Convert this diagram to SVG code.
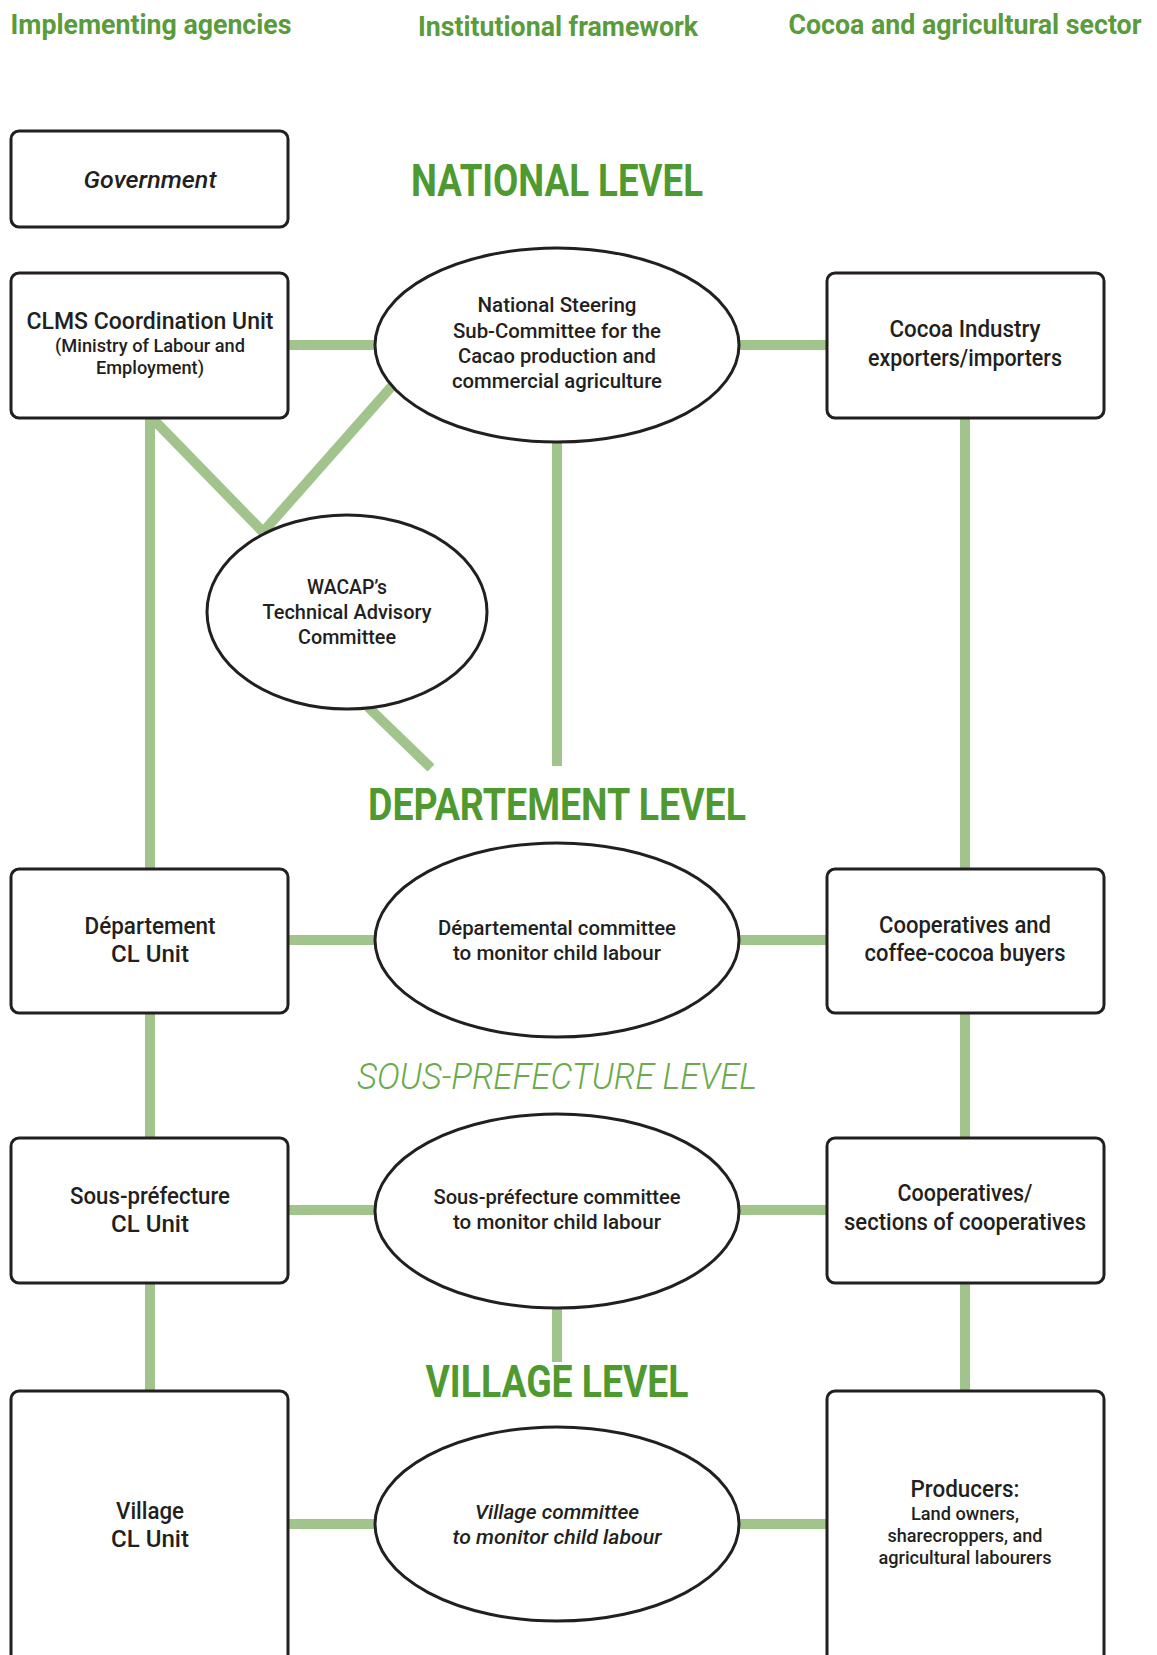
<svg xmlns="http://www.w3.org/2000/svg" width="1157" height="1655" viewBox="0 0 1157 1655">
<style>
.box{fill:#fff;stroke:#231f20;stroke-width:3}
.ell{fill:#fff;stroke:#231f20;stroke-width:3}
.con{stroke:#a1c48c;stroke-width:10;fill:none;stroke-linecap:butt}
text{font-family:Roboto,"Liberation Sans",sans-serif;fill:#231f20;text-anchor:middle;font-weight:500}
.hd{fill:#5a9b3c;font-size:28px;font-weight:bold}
.lvl{fill:#4f9a30;font-size:44px;font-weight:bold}
.lvl2{fill:#6aaa4c;font-size:36px;font-style:italic;font-weight:300}
.t21{font-size:23px}
.t19{font-size:20.5px}
.t16{font-size:17.5px}
.it{font-style:italic}
</style>
<rect width="1157" height="1655" fill="#fff"/>
<g id="headers">
<text class="hd" x="151" y="34" textLength="281" lengthAdjust="spacingAndGlyphs">Implementing agencies</text>
<text class="hd" x="558" y="36" textLength="280" lengthAdjust="spacingAndGlyphs">Institutional framework</text>
<text class="hd" x="965" y="34" textLength="353" lengthAdjust="spacingAndGlyphs">Cocoa and agricultural sector</text>
<text class="lvl" x="557" y="196" textLength="292" lengthAdjust="spacingAndGlyphs">NATIONAL LEVEL</text>
<text class="lvl" x="557" y="820" textLength="378" lengthAdjust="spacingAndGlyphs">DEPARTEMENT LEVEL</text>
<text class="lvl2" x="557" y="1089" textLength="400" lengthAdjust="spacingAndGlyphs">SOUS-PREFECTURE LEVEL</text>
<text class="lvl" x="557" y="1397" textLength="263" lengthAdjust="spacingAndGlyphs">VILLAGE LEVEL</text>
</g>
<g id="connectors">
<line class="con" x1="288" y1="345" x2="377" y2="345"/>
<line class="con" x1="739" y1="345" x2="828" y2="345"/>
<line class="con" x1="288" y1="940" x2="377" y2="940"/>
<line class="con" x1="739" y1="940" x2="828" y2="940"/>
<line class="con" x1="288" y1="1210" x2="377" y2="1210"/>
<line class="con" x1="739" y1="1210" x2="828" y2="1210"/>
<line class="con" x1="288" y1="1524" x2="377" y2="1524"/>
<line class="con" x1="739" y1="1524" x2="828" y2="1524"/>
<line class="con" x1="150" y1="418" x2="150" y2="869"/>
<line class="con" x1="150" y1="1013" x2="150" y2="1138"/>
<line class="con" x1="150" y1="1283" x2="150" y2="1391"/>
<line class="con" x1="965" y1="418" x2="965" y2="869"/>
<line class="con" x1="965" y1="1013" x2="965" y2="1138"/>
<line class="con" x1="965" y1="1283" x2="965" y2="1391"/>
<line class="con" x1="557" y1="442" x2="557" y2="766"/>
<line class="con" x1="557" y1="1306" x2="557" y2="1362"/>
<line class="con" x1="152" y1="418" x2="263" y2="532"/>
<line class="con" x1="392" y1="386" x2="263" y2="532"/>
<line class="con" x1="368" y1="707" x2="431" y2="768"/>
</g>
<g id="government"><rect class="box" x="11" y="131" width="277" height="96" rx="8"/><text class="t21 it" x="150" y="188" textLength="133" lengthAdjust="spacingAndGlyphs">Government</text></g>
<g id="clms"><rect class="box" x="11" y="273" width="277" height="145" rx="8"/>
<text class="t21" x="150" y="329" textLength="247" lengthAdjust="spacingAndGlyphs">CLMS Coordination Unit</text>
<text class="t16" x="150" y="352" textLength="190" lengthAdjust="spacingAndGlyphs">(Ministry of Labour and</text>
<text class="t16" x="150" y="374" textLength="108" lengthAdjust="spacingAndGlyphs">Employment)</text></g>
<g id="cocoa"><rect class="box" x="827" y="273" width="277" height="145" rx="8"/>
<text class="t21" x="965" y="337" textLength="151" lengthAdjust="spacingAndGlyphs">Cocoa Industry</text>
<text class="t21" x="965" y="366" textLength="194" lengthAdjust="spacingAndGlyphs">exporters/importers</text></g>
<g id="nsc"><ellipse class="ell" cx="557" cy="345" rx="182" ry="97"/>
<text class="t19" x="557" y="312" textLength="159" lengthAdjust="spacingAndGlyphs">National Steering</text>
<text class="t19" x="557" y="338" textLength="208" lengthAdjust="spacingAndGlyphs">Sub-Committee for the</text>
<text class="t19" x="557" y="363" textLength="198" lengthAdjust="spacingAndGlyphs">Cacao production and</text>
<text class="t19" x="557" y="388" textLength="210" lengthAdjust="spacingAndGlyphs">commercial agriculture</text></g>
<g id="wacap"><ellipse class="ell" cx="347" cy="612" rx="140" ry="97"/>
<text class="t19" x="347" y="594" textLength="80" lengthAdjust="spacingAndGlyphs">WACAP’s</text>
<text class="t19" x="347" y="619" textLength="169" lengthAdjust="spacingAndGlyphs">Technical Advisory</text>
<text class="t19" x="347" y="644" textLength="98" lengthAdjust="spacingAndGlyphs">Committee</text></g>
<g id="dep-unit"><rect class="box" x="11" y="869" width="277" height="144" rx="8"/>
<text class="t21" x="150" y="934" textLength="131" lengthAdjust="spacingAndGlyphs">Département</text>
<text class="t21" x="150" y="962" textLength="78" lengthAdjust="spacingAndGlyphs">CL Unit</text></g>
<g id="dep-comm"><ellipse class="ell" cx="557" cy="940" rx="182" ry="97"/>
<text class="t19" x="557" y="935" textLength="238" lengthAdjust="spacingAndGlyphs">Départemental committee</text>
<text class="t19" x="557" y="960" textLength="208" lengthAdjust="spacingAndGlyphs">to monitor child labour</text></g>
<g id="coop-buyers"><rect class="box" x="827" y="869" width="277" height="144" rx="8"/>
<text class="t21" x="965" y="933" textLength="172" lengthAdjust="spacingAndGlyphs">Cooperatives and</text>
<text class="t21" x="965" y="961" textLength="201" lengthAdjust="spacingAndGlyphs">coffee-cocoa buyers</text></g>
<g id="sp-unit"><rect class="box" x="11" y="1138" width="277" height="145" rx="8"/>
<text class="t21" x="150" y="1204" textLength="160" lengthAdjust="spacingAndGlyphs">Sous-préfecture</text>
<text class="t21" x="150" y="1232" textLength="78" lengthAdjust="spacingAndGlyphs">CL Unit</text></g>
<g id="sp-comm"><ellipse class="ell" cx="557" cy="1211" rx="182" ry="97"/>
<text class="t19" x="557" y="1204" textLength="247" lengthAdjust="spacingAndGlyphs">Sous-préfecture committee</text>
<text class="t19" x="557" y="1229" textLength="208" lengthAdjust="spacingAndGlyphs">to monitor child labour</text></g>
<g id="coop-sections"><rect class="box" x="827" y="1138" width="277" height="145" rx="8"/>
<text class="t21" x="965" y="1201" textLength="135" lengthAdjust="spacingAndGlyphs">Cooperatives/</text>
<text class="t21" x="965" y="1230" textLength="242" lengthAdjust="spacingAndGlyphs">sections of cooperatives</text></g>
<g id="village-unit"><rect class="box" x="11" y="1391" width="277" height="272" rx="8"/>
<text class="t21" x="150" y="1519" textLength="68" lengthAdjust="spacingAndGlyphs">Village</text>
<text class="t21" x="150" y="1547" textLength="78" lengthAdjust="spacingAndGlyphs">CL Unit</text></g>
<g id="village-comm"><ellipse class="ell" cx="557" cy="1524" rx="182" ry="97"/>
<text class="t19 it" x="557" y="1519" textLength="164" lengthAdjust="spacingAndGlyphs">Village committee</text>
<text class="t19 it" x="557" y="1544" textLength="209" lengthAdjust="spacingAndGlyphs">to monitor child labour</text></g>
<g id="producers"><rect class="box" x="827" y="1391" width="277" height="272" rx="8"/>
<text class="t21" x="965" y="1497" textLength="109" lengthAdjust="spacingAndGlyphs">Producers:</text>
<text class="t16" x="965" y="1520" textLength="108" lengthAdjust="spacingAndGlyphs">Land owners,</text>
<text class="t16" x="965" y="1542" textLength="155" lengthAdjust="spacingAndGlyphs">sharecroppers, and</text>
<text class="t16" x="965" y="1564" textLength="173" lengthAdjust="spacingAndGlyphs">agricultural labourers</text></g>
</svg>
